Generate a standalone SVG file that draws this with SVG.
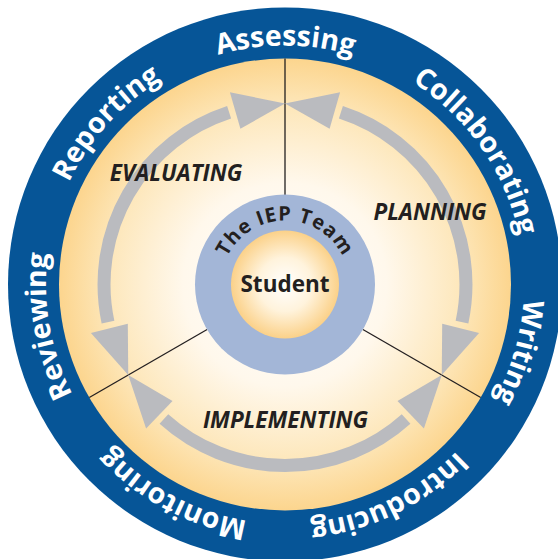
<svg xmlns="http://www.w3.org/2000/svg" xmlns:xlink="http://www.w3.org/1999/xlink" width="558" height="559" viewBox="0 0 558 559">
  <style>
    .ring { font-family: "Open Sans", "Noto Sans", sans-serif; font-weight: 700; font-size: 28.5px; fill: #ffffff; }
    .phase { font-family: "Open Sans", "Noto Sans", sans-serif; font-weight: 700; font-style: italic; font-size: 22.5px; fill: #231f20; text-anchor: middle; }
    .team { font-family: "Open Sans", "Noto Sans", sans-serif; font-weight: 700; font-size: 20px; fill: #231f20; }
    .arc { fill: none; stroke: #babbbf; stroke-width: 13; }
    .head { fill: #babbbf; }
    .div { stroke: #231f20; stroke-width: 1.3; }
  </style>
  <defs>
    <radialGradient id="discGrad" cx="285" cy="284.5" r="226" gradientUnits="userSpaceOnUse">
      <stop offset="0" stop-color="#ffffff"/>
      <stop offset="0.45" stop-color="#fff8ec"/>
      <stop offset="0.8" stop-color="#fde6b8"/>
      <stop offset="1" stop-color="#fcd58e"/>
    </radialGradient>
    <radialGradient id="studGrad" cx="285" cy="284.5" r="54" gradientUnits="userSpaceOnUse">
      <stop offset="0" stop-color="#ffffff"/>
      <stop offset="0.5" stop-color="#fff3dc"/>
      <stop offset="1" stop-color="#fbd189"/>
    </radialGradient>
    <path id="ringPath" d="M524,284.5 A239,239 0 0 1 46,284.5 A239,239 0 0 1 524,284.5 A239,239 0 0 1 46,284.5 A239,239 0 0 1 524,284.5"/>
    <path id="teamPath" d="M221,284.5 A64,64 0 0 1 349,284.5"/>
  </defs>

  <g id="outer-ring">
    <circle cx="285" cy="284.5" r="277" fill="#065597"/>
  </g>
  <g id="disc">
    <circle cx="285" cy="284.5" r="226" fill="url(#discGrad)"/>
  </g>

  <g id="connectors">
    <line class="div" x1="285" y1="195" x2="285" y2="58.5"/>
    <line class="div" x1="362.9" y1="329.5" x2="480.7" y2="397.5"/>
    <line class="div" x1="207.1" y1="329.5" x2="89.3" y2="397.5"/>
  </g>

  <g id="arrows">
    <path class="arc" d="M108,322.1 A181,181 0 0 1 229.1,112.3"/>
    <path class="arc" d="M163.9,419 A181,181 0 0 0 406.1,419"/>
    <path class="arc" d="M340.9,112.3 A181,181 0 0 1 462,322.1"/>
    <polygon class="head" points="285,103.5 240.4,128.8 229.9,92.2"/>
    <polygon class="head" points="285,103.5 329.6,128.8 340.1,92.2"/>
    <polygon class="head" points="128.25,375 127.8,323.7 90.9,332.9"/>
    <polygon class="head" points="128.25,375 172.5,401 146.1,428.4"/>
    <polygon class="head" points="441.75,375 397.5,401 423.9,428.4"/>
    <polygon class="head" points="441.75,375 442.2,323.7 479.1,332.9"/>
  </g>

  <g id="team">
    <circle cx="285" cy="284.5" r="90" fill="#a3b6d7"/>
    <text class="team" letter-spacing="1"><textPath xlink:href="#teamPath" href="#teamPath" startOffset="50%" text-anchor="middle">The IEP Team</textPath></text>
  </g>
  <g id="student">
    <circle cx="285" cy="284.5" r="54" fill="url(#studGrad)"/>
    <text x="285" y="292" font-family="'Open Sans', 'Noto Sans', sans-serif" font-weight="700" font-size="22.5" fill="#231f20" text-anchor="middle">Student</text>
  </g>

  <g id="phases">
    <text class="phase" x="176" y="181">EVALUATING</text>
    <text class="phase" x="430" y="220">PLANNING</text>
    <text class="phase" x="285.5" y="428">IMPLEMENTING</text>
  </g>

  <g id="ring-labels">
    <text class="ring"><textPath xlink:href="#ringPath" href="#ringPath" startOffset="1126.3" text-anchor="middle">Assessing</textPath></text>
    <text class="ring"><textPath xlink:href="#ringPath" href="#ringPath" startOffset="1355.7" text-anchor="middle">Collaborating</textPath></text>
    <text class="ring"><textPath xlink:href="#ringPath" href="#ringPath" startOffset="1568.4" text-anchor="middle">Writing</textPath></text>
    <text class="ring"><textPath xlink:href="#ringPath" href="#ringPath" startOffset="267" text-anchor="middle">Introducing</textPath></text>
    <text class="ring"><textPath xlink:href="#ringPath" href="#ringPath" startOffset="492.2" text-anchor="middle">Monitoring</textPath></text>
    <text class="ring"><textPath xlink:href="#ringPath" href="#ringPath" startOffset="709.1" text-anchor="middle">Reviewing</textPath></text>
    <text class="ring"><textPath xlink:href="#ringPath" href="#ringPath" startOffset="926" text-anchor="middle">Reporting</textPath></text>
  </g>
</svg>
